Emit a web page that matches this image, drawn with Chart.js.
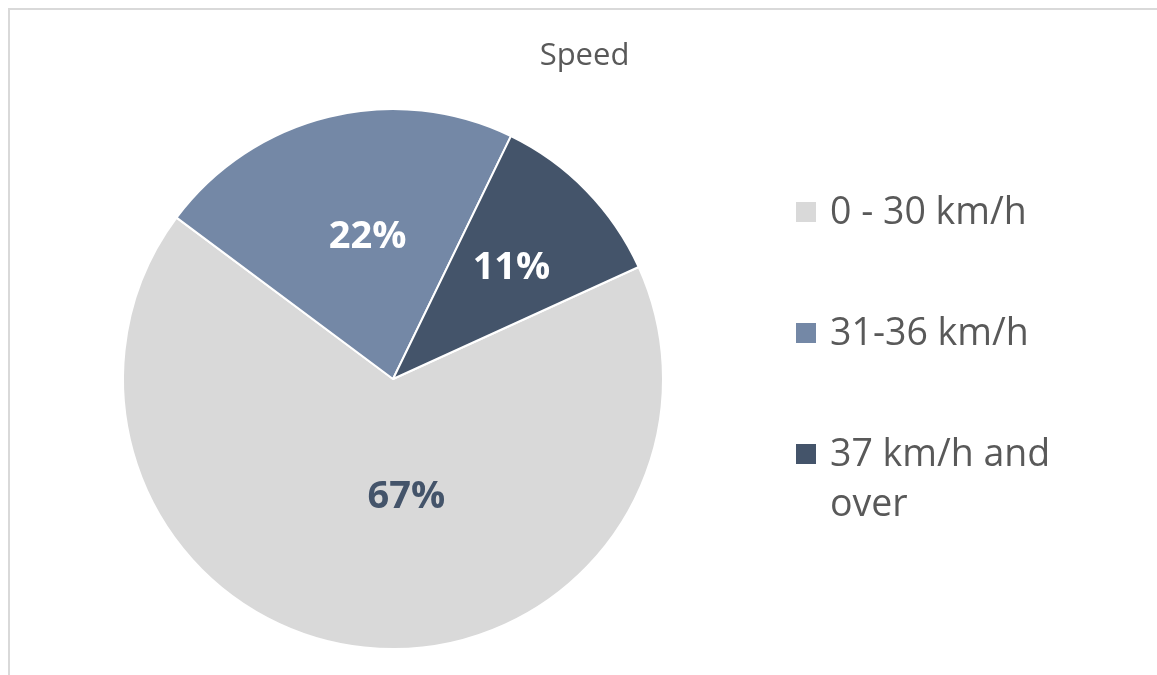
<!DOCTYPE html>
<html>
<head>
<meta charset="utf-8">
<script src="https://cdn.jsdelivr.net/npm/chart.js@4.4.1/dist/chart.umd.min.js"></script>
<style>
  html, body { margin: 0; padding: 0; background: #ffffff; }
  #wrap { position: relative; width: 1157px; height: 675px; overflow: hidden; }
  #frame { position: absolute; left: 8px; top: 8px; width: 1300px; height: 800px;
           border-top: 2px solid #d9d9d9; border-left: 2px solid #d9d9d9; }
  canvas { position: absolute; left: 0; top: 0; }
</style>
</head>
<body>
<div id="wrap">
  <div id="frame"></div>
  <canvas id="c" width="1157" height="675"></canvas>
</div>
<script>
// ---- data ----
const chartTitle = "Speed";
const categories = ["0 - 30 km/h", "31-36 km/h", "37 km/h and over"];
const shares = [67, 22, 11];
const percentLabels = ["67%", "22%", "11%"];

// ---- style ----
const sliceColors = ["#d9d9d9", "#7488a6", "#44546a"];
const labelColors = ["#44546a", "#ffffff", "#ffffff"];
const labelPlacement = [ { frac: 0.44, shiftDeg: -12.6 }, { frac: 0.535, shiftDeg: 3.6 }, { frac: 0.60, shiftDeg: 1.3 } ];
const FONT = '"Open Sans", "DejaVu Sans", sans-serif';

const dataLabelPlugin = {
  id: 'dataLabels',
  afterDatasetsDraw(chart) {
    const ctx = chart.ctx;
    const meta = chart.getDatasetMeta(0);
    ctx.save();
    ctx.font = 'bold 38px ' + FONT;
    ctx.textAlign = 'center';
    ctx.textBaseline = 'middle';
    meta.data.forEach((arc, i) => {
      const p = arc.getProps(['x', 'y', 'startAngle', 'endAngle', 'outerRadius'], true);
      const mid = (p.startAngle + p.endAngle) / 2 + labelPlacement[i].shiftDeg * Math.PI / 180;
      const r = p.outerRadius * labelPlacement[i].frac;
      ctx.fillStyle = labelColors[i];
      ctx.fillText(percentLabels[i], p.x + Math.cos(mid) * r, p.y + Math.sin(mid) * r);
    });
    ctx.restore();
  }
};

const titleLegendPlugin = {
  id: 'titleLegend',
  afterDraw(chart) {
    const ctx = chart.ctx;
    ctx.save();
    // title
    ctx.font = '31px ' + FONT;
    ctx.fillStyle = '#595959';
    ctx.textAlign = 'center';
    ctx.textBaseline = 'alphabetic';
    ctx.fillText(chartTitle, 584.5, 65);
    // legend
    ctx.font = '37.5px ' + FONT;
    ctx.textAlign = 'left';
    const boxX = 796, textX = 830, firstBoxTop = 202, rowGap = 121, lineGap = 50, maxW = 260;
    categories.forEach((label, i) => {
      const top = firstBoxTop + i * rowGap;
      ctx.fillStyle = sliceColors[i];
      ctx.fillRect(boxX, top, 20, 20);
      // wrap text
      const words = label.split(' ');
      const lines = [];
      let cur = '';
      words.forEach(w => {
        const test = cur ? cur + ' ' + w : w;
        if (ctx.measureText(test).width > maxW && cur) { lines.push(cur); cur = w; }
        else cur = test;
      });
      if (cur) lines.push(cur);
      ctx.fillStyle = '#595959';
      lines.forEach((ln, k) => ctx.fillText(ln, textX, top + 22 + k * lineGap));
    });
    ctx.restore();
  }
};

new Chart(document.getElementById('c'), {
  type: 'pie',
  data: {
    labels: categories,
    datasets: [{
      data: shares,
      backgroundColor: sliceColors,
      borderColor: '#ffffff',
      borderWidth: 2
    }]
  },
  options: {
    responsive: false,
    devicePixelRatio: 1,
    animation: false,
    events: [],
    rotation: 65.5,
    layout: { padding: { left: 122, right: 493, top: 108, bottom: 25 } },
    plugins: {
      legend: { display: false },
      title: { display: false },
      tooltip: { enabled: false }
    }
  },
  plugins: [dataLabelPlugin, titleLegendPlugin]
});
</script>
</body>
</html>
